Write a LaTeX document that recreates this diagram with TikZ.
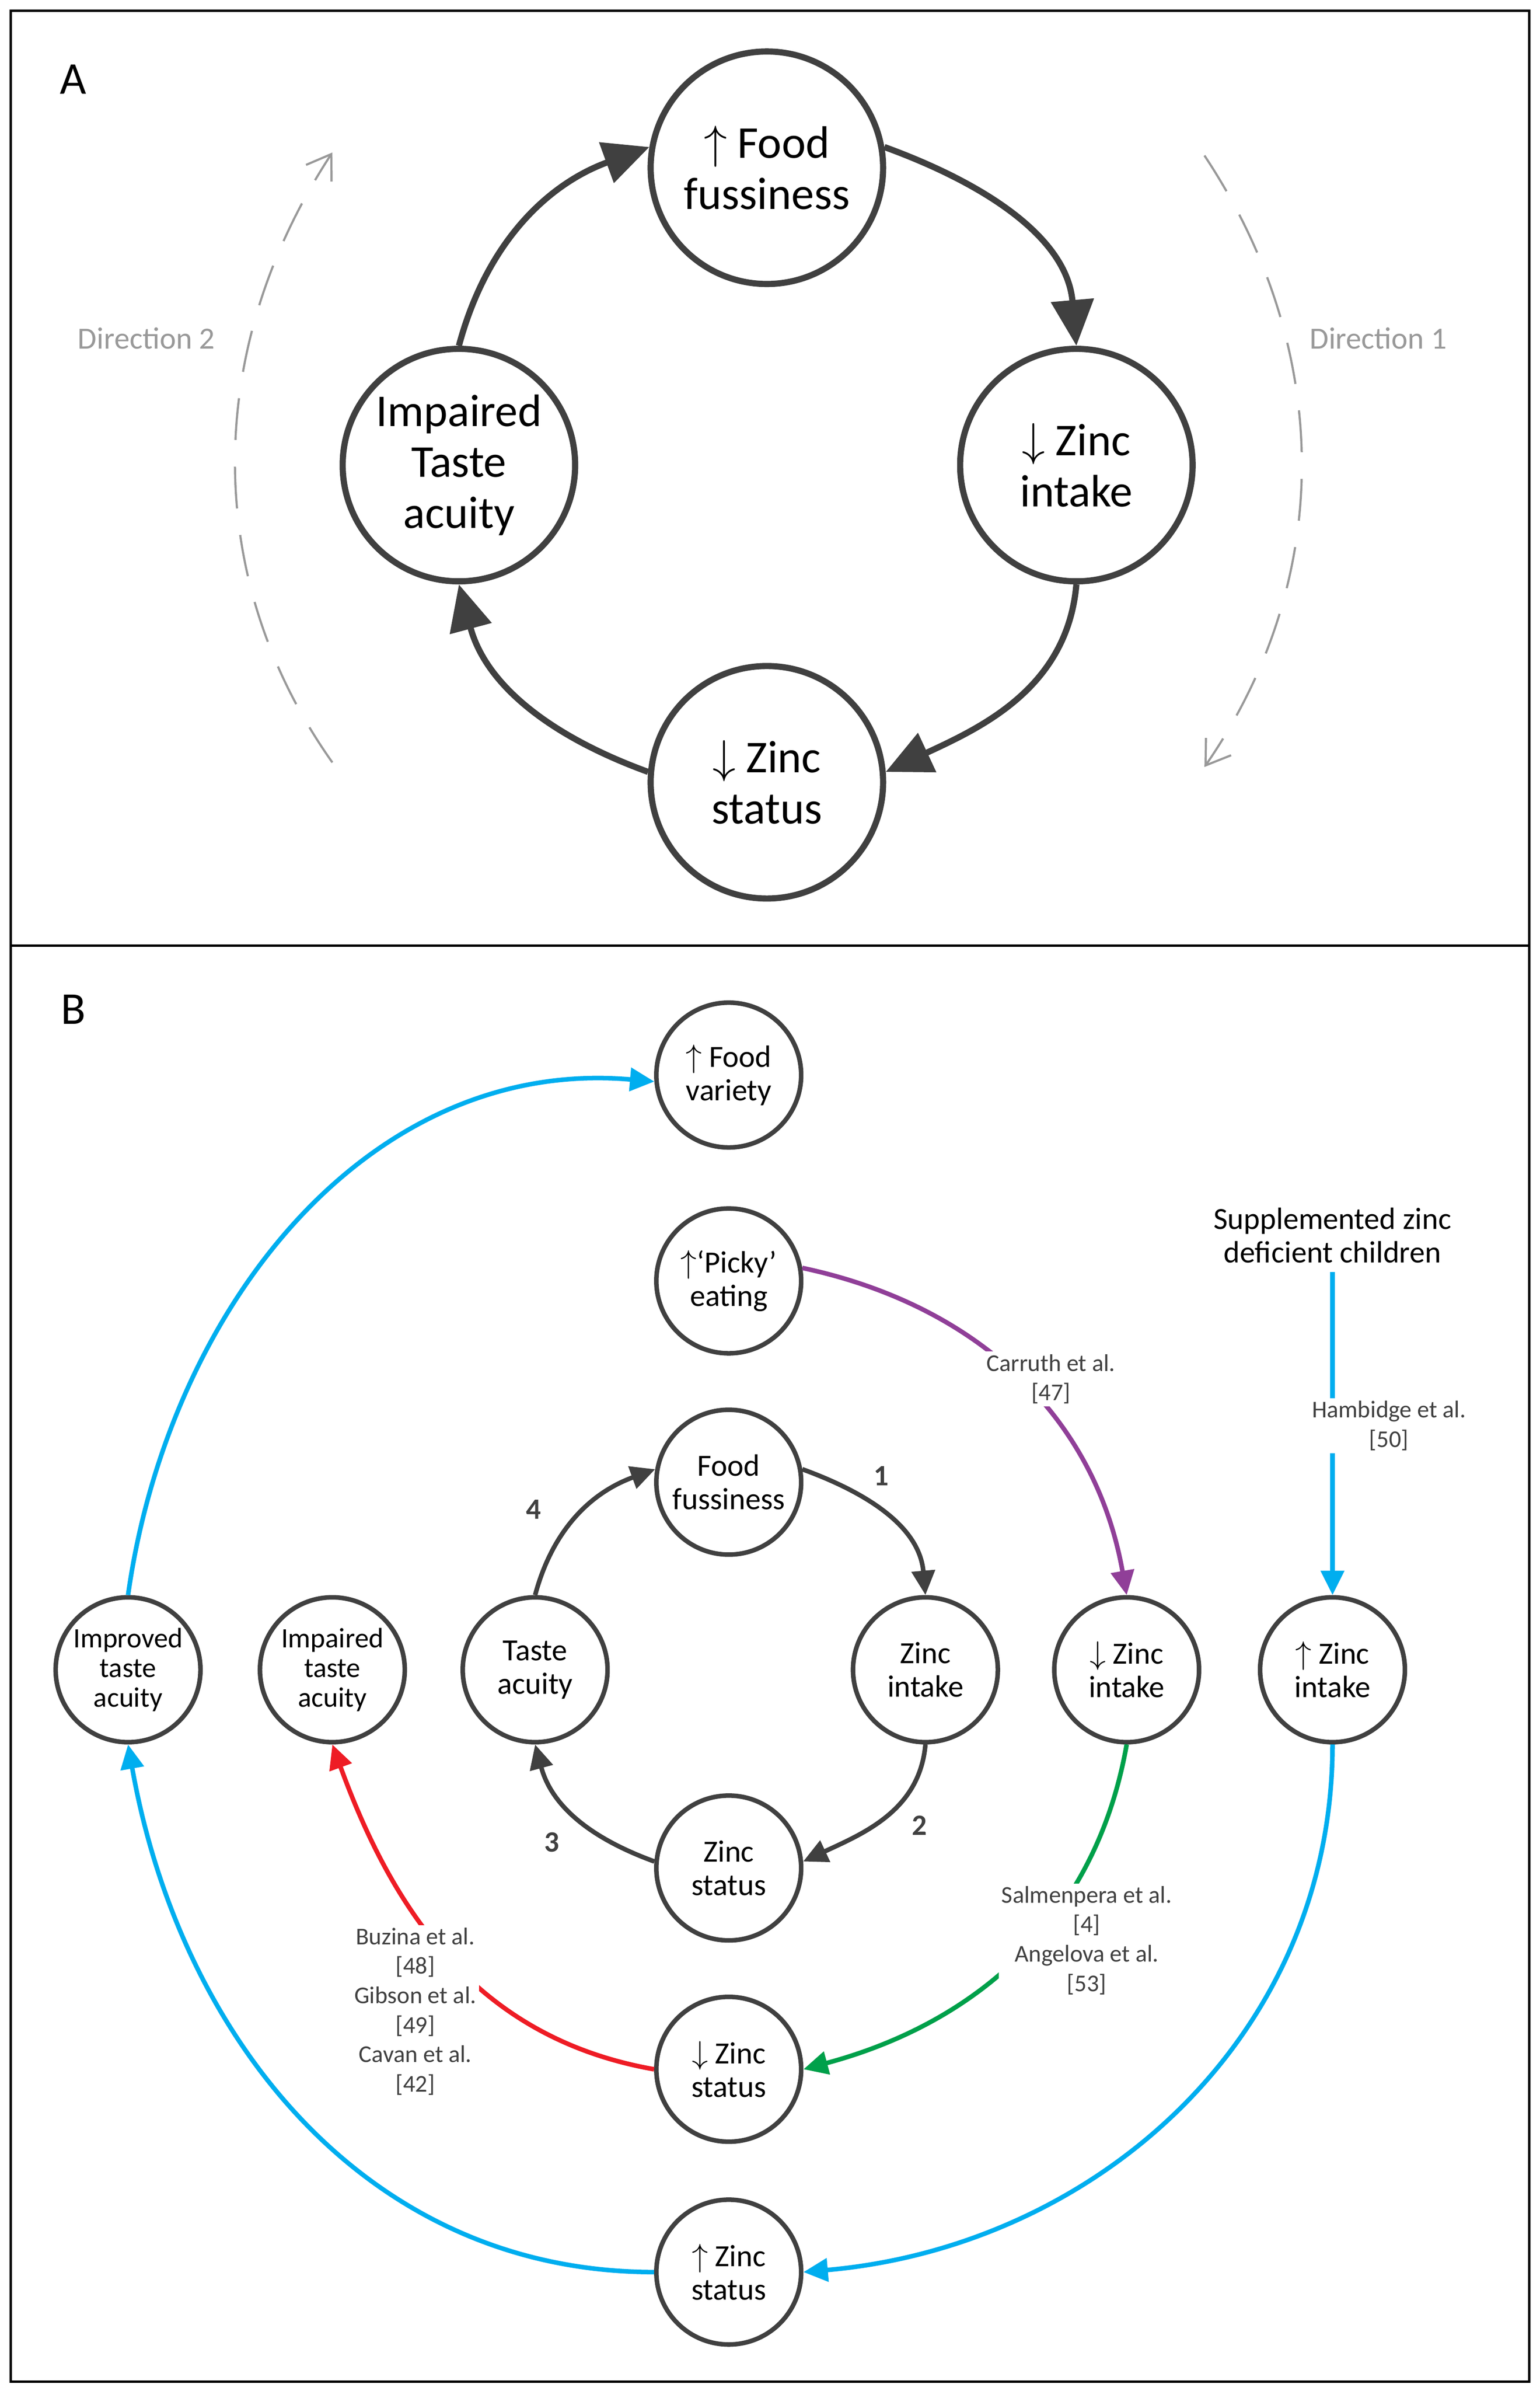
\documentclass[tikz,border=0pt]{standalone}
\usepackage{fontspec}
\setmainfont{Carlito}
\usetikzlibrary{arrows.meta}
\definecolor{dgray}{HTML}{404040}
\definecolor{lgray}{HTML}{999999}
\definecolor{cblue}{HTML}{00AEEF}
\definecolor{cpurple}{HTML}{903F98}
\definecolor{cgreen}{HTML}{00A04A}
\definecolor{cred}{HTML}{EE1C25}
\begin{document}
\begin{tikzpicture}[x=0.02cm,y=-0.02cm]
 \tikzstyle{bigstate} = [draw=dgray,circle,line width=2.3pt,minimum size=3.05cm,inner sep=0,align=center,font=\fontsize{17}{19}\selectfont]
 \tikzstyle{state} = [draw=dgray,circle,line width=1.7pt,minimum size=1.9cm,inner sep=0,align=center,font=\fontsize{11.5}{12.5}\selectfont]
 \tikzstyle{bigarrow} = [draw=dgray,line width=2.3pt,-{Triangle[length=0.6cm,width=0.55cm]}]
 \tikzstyle{arrow} = [line width=1.7pt,-{Triangle[length=0.32cm,width=0.3cm]}]
 \tikzstyle{dirarrow} = [draw=lgray,line width=0.8pt,dash pattern=on 0.55cm off 0.35cm,-{Straight Barb[length=0.3cm,width=0.4cm]}]
 \tikzstyle{ref} = [fill=white,align=center,inner sep=1pt,text=dgray,font=\fontsize{9}{11}\selectfont]
 \tikzstyle{num} = [text=dgray,font=\bfseries\fontsize{11}{12}\selectfont]
 \fill[white] (0,0) rectangle (1010,1568);
 \draw[line width=0.9pt] (7,7) rectangle (1003,1562);
 \draw[line width=0.9pt] (7,620) -- (1003,620);
 \node[font=\fontsize{17}{19}\selectfont] (lA) at (48,52) {A};
 \node[font=\fontsize{17}{19}\selectfont] (lB) at (48,662) {B};

 % panel A
 \node[bigstate] (afood) at (503,110) {$\uparrow$ Food\\fussiness};
 \node[bigstate] (aintake) at (706,305) {$\downarrow$ Zinc\\intake};
 \node[bigstate] (astatus) at (503,513) {$\downarrow$ Zinc\\status};
 \node[bigstate] (ataste) at (301,305) {Impaired\\Taste\\acuity};
 \draw[bigarrow] (afood.10) to[out=-20,in=95] (aintake.north);
 \draw[bigarrow] (aintake.south) to[out=-95,in=25] (astatus.5);
 \draw[bigarrow] (astatus.175) to[out=160,in=-75] (ataste.south);
 \draw[bigarrow] (ataste.north) to[out=75,in=200] (afood.170);
 \coordinate (d1s) at (790,102);
 \coordinate (d1e) at (790,503);
 \coordinate (d2s) at (218,500);
 \coordinate (d2e) at (218,100);
 \draw[dirarrow] (d1s) .. controls (875,230) and (875,380) .. (d1e);
 \draw[dirarrow] (d2s) .. controls (133,380) and (133,230) .. (d2e);
 \node[text=lgray,font=\fontsize{11.5}{13}\selectfont] (dir2) at (96,222) {Direction 2};
 \node[text=lgray,font=\fontsize{11.5}{13}\selectfont] (dir1) at (904,222) {Direction 1};

 % panel B
 \node[state] (variety) at (478,705) {$\uparrow$ Food\\variety};
 \node[state] (picky) at (478,840) {$\uparrow$‘Picky’\\eating};
 \node[state] (fuss) at (478,972) {Food\\fussiness};
 \node[state] (intake) at (607,1095) {Zinc\\intake};
 \node[state] (status) at (478,1225) {Zinc\\status};
 \node[state] (taste) at (351,1095) {Taste\\acuity};
 \node[state,font=\fontsize{10.5}{11}\selectfont] (improved) at (84,1095) {Improved\\taste\\acuity};
 \node[state,font=\fontsize{10.5}{11}\selectfont] (impaired) at (218,1095) {Impaired\\taste\\acuity};
 \node[state] (lowintake) at (739,1095) {$\downarrow$ Zinc\\intake};
 \node[state] (highintake) at (874,1095) {$\uparrow$ Zinc\\intake};
 \node[state] (lowstatus) at (478,1357) {$\downarrow$ Zinc\\status};
 \node[state] (highstatus) at (478,1490) {$\uparrow$ Zinc\\status};
 \node[align=center,font=\fontsize{11.5}{12.5}\selectfont] (suppl) at (874,810) {Supplemented zinc\\deficient children};

 \draw[arrow,dgray] (fuss.10) to[out=-20,in=95] (intake.north);
 \draw[arrow,dgray] (intake.south) to[out=-95,in=25] (status.5);
 \draw[arrow,dgray] (status.175) to[out=160,in=-75] (taste.south);
 \draw[arrow,dgray] (taste.north) to[out=75,in=200] (fuss.170);
 \node[num] (n1) at (578,968) {1};
 \node[num] (n2) at (603,1197) {2};
 \node[num] (n3) at (362,1208) {3};
 \node[num] (n4) at (350,990) {4};

 \draw[arrow,cblue] (suppl.south) -- (highintake.north);
 \node[ref] (hamb) at (911,935) {Hambidge et al.\\{}[50]};
 \draw[arrow,cpurple] (picky.10) to[out=-12,in=100] node[ref,pos=0.5,xshift=12] {Carruth et al.\\{}[47]} (lowintake.north);
 \draw[arrow,cgreen] (lowintake.south) to[out=-100,in=15] node[ref,pos=0.4,xshift=14,yshift=-7] {Salmenpera et al.\\{}[4]\\Angelova et al.\\{}[53]} (lowstatus.east);
 \draw[arrow,cred] (lowstatus.west) to[out=170,in=-70] node[ref,pos=0.4,xshift=-25,yshift=-8] {Buzina et al.\\{}[48]\\Gibson et al.\\{}[49]\\Cavan et al.\\{}[42]} (impaired.south);
 \draw[arrow,cblue] (improved.north) to[out=82,in=175] (variety.185);
 \draw[arrow,cblue] (highintake.south) to[out=-90,in=5] (highstatus.east);
 \draw[arrow,cblue] (highstatus.west) to[out=180,in=-80] (improved.south);
\end{tikzpicture}
\end{document}
